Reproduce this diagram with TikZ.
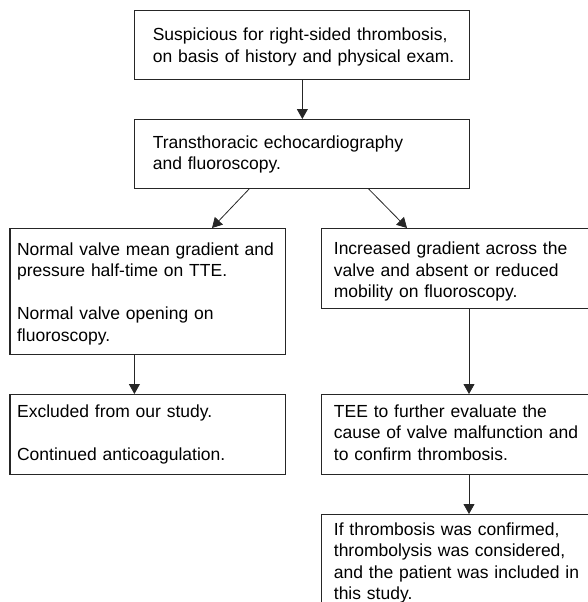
\documentclass[tikz,border=0pt]{standalone}
\usepackage{fontspec}
\setmainfont{Liberation Sans}
\usetikzlibrary{arrows.meta}
\begin{document}
\begin{tikzpicture}[x=1pt,y=-1pt,
  box/.style={draw=black!85,line width=1.1pt,rectangle,inner sep=0pt,anchor=north west},
  txt/.style={inner sep=0pt,anchor=base west,align=left,text width=420pt,
    font=\fontsize{17.5}{21.5}\selectfont},
  arr/.style={draw=black!85,line width=0.8pt,-{Triangle[length=10pt,width=11pt]}}]
\useasboundingbox (0,0) rectangle (588,602);
\clip (0,0) rectangle (588,602);
% boxes
\node[box,minimum width=335pt,minimum height=69pt] (b1) at (134.3,10) {};
\node[box,minimum width=335pt,minimum height=68.7pt] (b2) at (134.3,119) {};
\node[box,minimum width=275.6pt,minimum height=126pt] (l1) at (9.4,228) {};
\node[box,minimum width=275.6pt,minimum height=80pt] (r1) at (320.5,228) {};
\node[box,minimum width=275.6pt,minimum height=80pt] (l2) at (9.4,394) {};
\node[box,minimum width=275.6pt,minimum height=80pt] (r2) at (320.5,394) {};
\node[box,minimum width=275.6pt,minimum height=110pt] (r3) at (320.5,514) {};
% texts
\node[txt] (t1) at (152.6,40.7) {Suspicious for right-sided thrombosis,\\on basis of history and physical exam.};
\node[txt] (t2) at (152.6,148) {Transthoracic echocardiography\\and fluoroscopy.};
\node[txt] (t3) at (16.9,255) {Normal valve mean gradient and\\pressure half-time on TTE.\\[21.5pt]Normal valve opening on\\fluoroscopy.};
\node[txt] (t4) at (333.7,254.5) {Increased gradient across the\\valve and absent or reduced\\mobility on fluoroscopy.};
\node[txt] (t5) at (16.9,417) {Excluded from our study.\\[21.5pt]Continued anticoagulation.};
\node[txt] (t6) at (333.7,417) {TEE to further evaluate the\\cause of valve malfunction and\\to confirm thrombosis.};
\node[txt] (t7) at (333.7,535) {If thrombosis was confirmed,\\thrombolysis was considered,\\and the patient was included in\\this study.};
% connectors
\draw[arr] (b1.south) -- (b2.north);
\draw[arr] ([xshift=115pt]b2.south west) -- ([xshift=202.6pt]l1.north west);
\draw[arr] ([xshift=234.2pt]b2.south west) -- ([xshift=86.5pt]r1.north west);
\draw[arr] ([xshift=125pt]l1.south west) -- ([xshift=125pt]l2.north west);
\draw[arr] ([xshift=148.5pt]r1.south west) -- ([xshift=148.5pt]r2.north west);
\draw[arr] ([xshift=148.5pt]r2.south west) -- ([xshift=148.5pt]r3.north west);
\end{tikzpicture}
\end{document}
